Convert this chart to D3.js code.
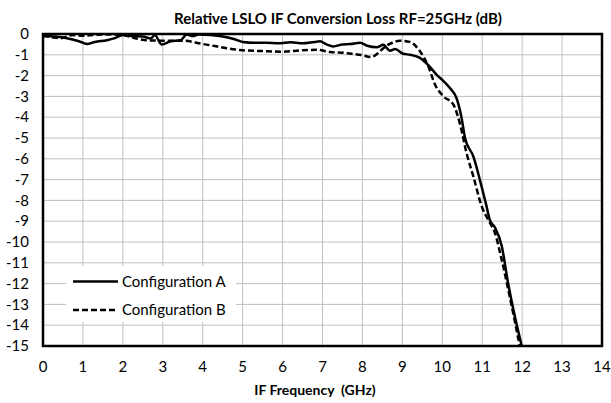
<!DOCTYPE html>
<html>
<head>
<meta charset="utf-8">
<script src="https://cdn.jsdelivr.net/npm/d3@7"></script>
<style>
  body { margin: 0; background: #fff; }
  text { font-family: Lato, "Open Sans", sans-serif; fill: #000; }
</style>
</head>
<body>
<svg width="611" height="403"></svg>
<script>
// values
const freqA = [0, 0.3, 0.6, 0.9, 1.1, 1.3, 1.6, 1.8, 2.0, 2.2, 2.5, 2.7, 2.8, 2.97, 3.2, 3.45, 3.6, 3.75, 3.9, 4.2,
  4.5, 4.8, 5.0, 5.3, 5.6, 5.9, 6.2, 6.5, 6.8, 6.94, 7.1, 7.27, 7.5, 7.7, 7.94, 8.1, 8.36, 8.52, 8.69, 8.82,
  9.02, 9.2, 9.44, 9.65, 9.86, 10.05, 10.19, 10.36, 10.48, 10.57, 10.78, 10.94, 11.11, 11.19, 11.32, 11.49, 11.65, 11.82, 11.99];
const lossA = [-0.08, -0.12, -0.2, -0.35, -0.48, -0.38, -0.3, -0.2, -0.05, -0.1, -0.12, -0.22, -0.05, -0.5, -0.35, -0.3, -0.02, -0.1, -0.02, -0.05,
  -0.12, -0.25, -0.38, -0.42, -0.42, -0.45, -0.4, -0.45, -0.38, -0.35, -0.5, -0.6, -0.5, -0.48, -0.42, -0.55, -0.64, -0.52, -0.8, -0.72,
  -0.95, -1.0, -1.15, -1.5, -1.96, -2.3, -2.6, -3.1, -4.0, -5.0, -5.9, -7.0, -8.3, -8.94, -9.3, -10.2, -12.0, -13.6, -15.0];

const freqB = [0, 0.2, 0.43, 0.75, 1.0, 1.5, 2.0, 2.3, 2.6, 3.0, 3.5, 4.0, 4.3, 4.6, 5.0, 5.5, 6.0, 6.5, 6.85, 7.2,
  7.5, 7.77, 8.0, 8.19, 8.3, 8.44, 8.61, 8.75, 8.94, 9.19, 9.44, 9.65, 9.82, 10.03, 10.28, 10.44, 10.61, 10.78, 10.99, 11.15,
  11.32, 11.49, 11.69, 11.94];
const lossB = [-0.1, -0.15, -0.2, -0.05, -0.08, -0.02, -0.05, -0.2, -0.3, -0.32, -0.32, -0.48, -0.58, -0.69, -0.78, -0.82, -0.85, -0.78, -0.76, -0.87,
  -0.9, -0.96, -1.02, -1.1, -1.05, -0.83, -0.55, -0.42, -0.32, -0.38, -0.83, -1.55, -2.44, -3.0, -3.4, -4.3, -5.74, -6.86, -8.3, -8.94,
  -9.58, -10.87, -12.63, -15.0];

const xTicks = d3.range(0, 15);
const yTicks = d3.range(0, -16, -1);
const seriesNames = ["Configuration A", "Configuration B"];

const svg = d3.select('svg');
const margin = {left: 43, right: 9, top: 34, bottom: 57};
const width = +svg.attr('width');
const height = +svg.attr('height');

const x = d3.scaleLinear().domain([0, 14]).range([margin.left, width - margin.right]);
const y = d3.scaleLinear().domain([0, -15]).range([margin.top, height - margin.bottom]);

// grid
svg.append('g')
  .selectAll('line.v').data(xTicks).join('line')
  .attr('x1', d => x(d)).attr('x2', d => x(d))
  .attr('y1', y(0)).attr('y2', y(-15))
  .attr('stroke', '#bfbfbf').attr('stroke-width', 1);
svg.append('g')
  .selectAll('line.h').data(yTicks).join('line')
  .attr('x1', x(0)).attr('x2', x(14))
  .attr('y1', d => y(d)).attr('y2', d => y(d))
  .attr('stroke', '#bfbfbf').attr('stroke-width', 1);

// legend box (white, hides grid)
svg.append('rect')
  .attr('x', 66).attr('y', 266).attr('width', 170).attr('height', 56)
  .attr('fill', '#fff');

svg.append('defs').append('clipPath').attr('id', 'plot')
  .append('rect')
  .attr('x', x(0)).attr('y', y(0))
  .attr('width', x(14) - x(0)).attr('height', y(-15) - y(0));

const line = d3.line()
  .x(d => x(d[0])).y(d => y(d[1]))
  .curve(d3.curveMonotoneX);

const plotG = svg.append('g').attr('clip-path', 'url(#plot)');
plotG.append('path')
  .attr('d', line(d3.zip(freqB, lossB)))
  .attr('fill', 'none').attr('stroke', '#000')
  .attr('stroke-width', 2.5).attr('stroke-dasharray', '6,3');
plotG.append('path')
  .attr('d', line(d3.zip(freqA, lossA)))
  .attr('fill', 'none').attr('stroke', '#000')
  .attr('stroke-width', 2.5);

// frame
svg.append('rect')
  .attr('x', x(0)).attr('y', y(0))
  .attr('width', x(14) - x(0)).attr('height', y(-15) - y(0))
  .attr('fill', 'none').attr('stroke', '#000').attr('stroke-width', 2.5);

// tick labels
svg.append('g')
  .selectAll('text').data(yTicks).join('text')
  .attr('x', 29).attr('y', d => y(d))
  .attr('dy', '0.35em')
  .attr('text-anchor', 'end')
  .style('font-size', '15px')
  .text(d => d);
svg.append('g')
  .selectAll('text').data(xTicks).join('text')
  .attr('x', d => x(d)).attr('y', 372)
  .attr('text-anchor', 'middle')
  .style('font-size', '15px')
  .text(d => d);

// titles
svg.append('text')
  .attr('x', 338).attr('y', 24)
  .attr('text-anchor', 'middle')
  .style('font-size', '15px').style('font-weight', 'bold')
  .text('Relative LSLO IF Conversion Loss RF=25GHz (dB)');
svg.append('text')
  .attr('x', 315).attr('y', 395)
  .attr('text-anchor', 'middle')
  .style('font-size', '14px').style('font-weight', 'bold')
  .style('white-space', 'pre')
  .text('IF Frequency  (GHz)');

// legend
const legend = svg.append('g');
seriesNames.forEach((name, i) => {
  const ly = 281.5 + i * 28.5;
  legend.append('line')
    .attr('x1', 73).attr('x2', 118).attr('y1', ly).attr('y2', ly)
    .attr('stroke', '#000').attr('stroke-width', 2.5)
    .attr('stroke-dasharray', i === 1 ? '6,3' : null);
  legend.append('text')
    .attr('x', 122).attr('y', ly).attr('dy', '0.35em')
    .style('font-size', '15px')
    .text(name);
});
</script>
</body>
</html>
